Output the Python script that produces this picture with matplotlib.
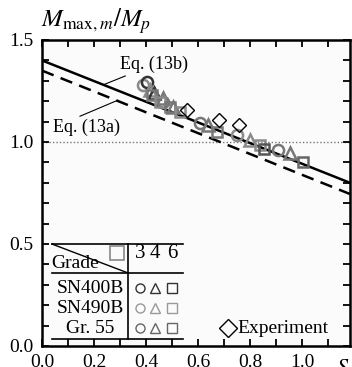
import matplotlib
matplotlib.use("Agg")
import matplotlib.pyplot as plt
from matplotlib.ticker import MultipleLocator

plt.rcParams['font.family'] = ['Liberation Serif', 'DejaVu Serif']
plt.rcParams['mathtext.fontset'] = 'stix'

# Eq. (13a) / (13b) lines, end points
eq13b_x = [0.0, 1.185]
eq13b_y = [1.40, 0.80]
eq13a_x = [0.0, 1.185]
eq13a_y = [1.35, 0.745]

# analysis results (S_H, M_max,m/M_p)
circ_x = [0.387, 0.403, 0.466, 0.608, 0.749, 0.908]
circ_y = [1.279, 1.296, 1.197, 1.092, 1.034, 0.960]
circ_c = ['#8a8a8a', '#333333', '#777777', '#777777', '#8a8a8a', '#777777']
tri_x = [0.415, 0.430, 0.465, 0.504, 0.638, 0.800, 0.954]
tri_y = [1.255, 1.240, 1.216, 1.173, 1.083, 1.010, 0.944]
tri_c = ['#8a8a8a', '#333333', '#777777', '#777777', '#777777', '#8a8a8a', '#777777']
sq_x = [0.422, 0.454, 0.492, 0.531, 0.672, 0.838, 0.855, 1.005]
sq_y = [1.230, 1.198, 1.173, 1.149, 1.050, 0.985, 0.968, 0.903]
sq_c = ['#777777', '#8a8a8a', '#777777', '#8a8a8a', '#777777', '#8a8a8a', '#555555', '#666666']

# experiments
exp_x = [0.556, 0.680, 0.758]
exp_y = [1.157, 1.108, 1.083]

grades = ['SN400B', 'SN490B', 'Gr. 55']
grade_colors = ['#333333', '#999999', '#666666']
b_t = ['3', '4', '6']

fig = plt.figure(figsize=(3.52, 3.67), dpi=100)
ax = fig.add_axes([42/352, 1-346/367, 308/352, 306/367])
ax.set_facecolor('#fbfbfb')
ax.set_xlim(0, 1.185)
ax.set_ylim(0, 1.5)

ax.axhline(1.0, color='#777777', lw=1, ls=(0, (1, 1.5)), zorder=1)
ax.plot(eq13b_x, eq13b_y, color='black', lw=1.8, zorder=2)
ax.plot(eq13a_x, eq13a_y, color='black', lw=1.8, ls=(0, (5, 3)), zorder=2)

for x, y, c in zip(circ_x, circ_y, circ_c):
    ax.plot(x, y, 'o', ms=8, mfc='none', mec=c, mew=1.8, zorder=3)
for x, y, c in zip(tri_x, tri_y, tri_c):
    ax.plot(x, y, '^', ms=8.5, mfc='none', mec=c, mew=1.8, zorder=3)
for x, y, c in zip(sq_x, sq_y, sq_c):
    ax.plot(x, y, 's', ms=7.5, mfc='none', mec=c, mew=1.8, zorder=3)
ax.plot(exp_x, exp_y, 'D', ms=7.5, mfc='none', mec='black', mew=1.0, ls='none', zorder=4)

# labels for the two equations
ax.annotate('Eq. (13b)', xy=(0.235, 1.28), xytext=(0.30, 1.38),
            fontsize=13, ha='left', va='center',
            arrowprops=dict(arrowstyle='-', color='black', lw=0.8, shrinkA=0, shrinkB=0))
ax.annotate('Eq. (13a)', xy=(0.292, 1.205), xytext=(0.043, 1.07),
            fontsize=13, ha='left', va='center',
            arrowprops=dict(arrowstyle='-', color='black', lw=0.8, shrinkA=0, shrinkB=0,
                            relpos=(0.3, 1.0)))

# legend table
tl, tr, tv = 0.038, 0.542, 0.331
ax.plot([tl, tr], [0.5, 0.5], color='black', lw=1.2)
ax.plot([tl, tr], [0.358, 0.358], color='black', lw=1.2)
ax.plot([tl, tr], [0.034, 0.034], color='black', lw=1.2)
ax.plot([tv, tv], [0.034, 0.5], color='black', lw=1.2)
ax.plot([tl, tv], [0.5, 0.358], color='black', lw=1.0)
ax.plot(0.288, 0.455, 's', ms=10, mfc='none', mec='#888888', mew=1.2)
ax.text(0.127, 0.402, 'Grade', fontsize=14, ha='center', va='center')
row_y = [0.284, 0.186, 0.088]
col_x = [0.377, 0.433, 0.500]
for t, cx in zip(b_t, col_x):
    ax.text(cx, 0.452, t, fontsize=15, ha='center', va='center')
for g, c, ry in zip(grades, grade_colors, row_y):
    ax.text(0.185, ry, g, fontsize=14, ha='center', va='center')
    ax.plot(col_x[0], ry, 'o', ms=6.5, mfc='none', mec=c, mew=1.0)
    ax.plot(col_x[1], ry, '^', ms=7, mfc='none', mec=c, mew=1.0)
    ax.plot(col_x[2], ry, 's', ms=6.5, mfc='none', mec=c, mew=1.0)

ax.plot(0.715, 0.088, 'D', ms=9, mfc='none', mec='black', mew=1.0)
ax.text(0.752, 0.088, 'Experiment', fontsize=14, ha='left', va='center')

# axes styling
ax.xaxis.set_major_locator(MultipleLocator(0.2))
ax.xaxis.set_minor_locator(MultipleLocator(0.1))
ax.yaxis.set_major_locator(MultipleLocator(0.5))
ax.yaxis.set_minor_locator(MultipleLocator(0.1))
ax.tick_params(which='both', direction='in', top=True, right=True,
               length=5, width=1.3, labelsize=14, pad=6)
ax.xaxis.set_major_formatter(plt.FuncFormatter(lambda v, p: f'{v:.1f}'))
ax.yaxis.set_major_formatter(plt.FuncFormatter(lambda v, p: f'{v:.1f}'))
for sp in ax.spines.values():
    sp.set_linewidth(1.8)

fig.text(41/352, 1-21/367, r'$M_{\mathrm{max},m}/M_p$', fontsize=18, ha='left', va='center')
ax.text(1.13, -0.055, r'$S_H$', fontsize=16, ha='left', va='top', clip_on=False)

fig.savefig('out.png', dpi=100)
